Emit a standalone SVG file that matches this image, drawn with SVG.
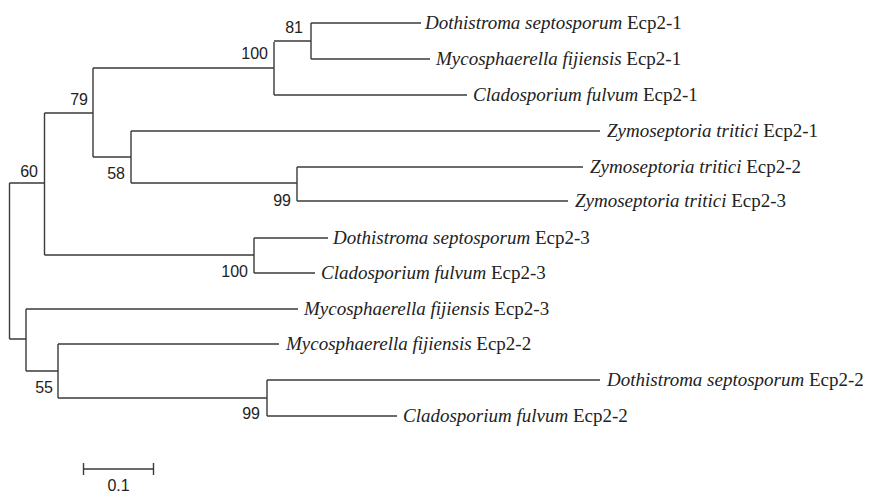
<svg xmlns="http://www.w3.org/2000/svg" width="869" height="493" viewBox="0 0 869 493">
<style>
.br{fill:none;stroke:#3a3a3a;stroke-width:1.4}
.bs{font-family:"Liberation Sans",Arial,sans-serif;font-size:16px;fill:#222;text-anchor:end}
.lf{font-family:"Liberation Serif","Times New Roman",serif;font-size:19px;fill:#222}
.sp{font-style:italic}
</style>
<rect width="869" height="493" fill="#fff"/>
<g id="connectors" class="br">
<path d="M9.5,183V339"/>
<path d="M9.5,183H44.5M44.5,113V255"/>
<path d="M44.5,113H93M93,68V157"/>
<path d="M93,68H274M274,42V95"/>
<path d="M274,41H311M311,23V59"/>
<path d="M311,23H421"/>
<path d="M311,59H430"/>
<path d="M274,95H467"/>
<path d="M93,157H131M131,131V183"/>
<path d="M131,131H600"/>
<path d="M131,183H297M297,167V201"/>
<path d="M297,167H583"/>
<path d="M297,201H568"/>
<path d="M44.5,255H254M254,238V273"/>
<path d="M254,238H328"/>
<path d="M254,273H315"/>
<path d="M9.5,339H26M26,309V371"/>
<path d="M26,309H298"/>
<path d="M26,371H58M58,344V398"/>
<path d="M58,344H279"/>
<path d="M58,398H267M267,380V416"/>
<path d="M267,380H600"/>
<path d="M267,416H397"/>
</g>
<g id="support">
<text class="bs" x="303" y="33">81</text>
<text class="bs" x="268" y="59">100</text>
<text class="bs" x="88" y="105">79</text>
<text class="bs" x="38" y="177">60</text>
<text class="bs" x="125" y="179">58</text>
<text class="bs" x="291" y="206">99</text>
<text class="bs" x="248" y="277">100</text>
<text class="bs" x="53" y="393">55</text>
<text class="bs" x="260" y="419">99</text>
</g>
<g id="leaf-ds1"><text class="lf" x="425" y="29"><tspan class="sp">Dothistroma septosporum</tspan> Ecp2-1</text></g>
<g id="leaf-mf1"><text class="lf" x="436" y="65"><tspan class="sp">Mycosphaerella fijiensis</tspan> Ecp2-1</text></g>
<g id="leaf-cf1"><text class="lf" x="473" y="101"><tspan class="sp">Cladosporium fulvum</tspan> Ecp2-1</text></g>
<g id="leaf-zt1"><text class="lf" x="607" y="137"><tspan class="sp">Zymoseptoria tritici</tspan> Ecp2-1</text></g>
<g id="leaf-zt2"><text class="lf" x="590" y="173"><tspan class="sp">Zymoseptoria tritici</tspan> Ecp2-2</text></g>
<g id="leaf-zt3"><text class="lf" x="575" y="207"><tspan class="sp">Zymoseptoria tritici</tspan> Ecp2-3</text></g>
<g id="leaf-ds3"><text class="lf" x="333" y="244"><tspan class="sp">Dothistroma septosporum</tspan> Ecp2-3</text></g>
<g id="leaf-cf3"><text class="lf" x="321" y="279"><tspan class="sp">Cladosporium fulvum</tspan> Ecp2-3</text></g>
<g id="leaf-mf3"><text class="lf" x="304" y="315"><tspan class="sp">Mycosphaerella fijiensis</tspan> Ecp2-3</text></g>
<g id="leaf-mf2"><text class="lf" x="286" y="350"><tspan class="sp">Mycosphaerella fijiensis</tspan> Ecp2-2</text></g>
<g id="leaf-ds2"><text class="lf" x="607" y="386"><tspan class="sp">Dothistroma septosporum</tspan> Ecp2-2</text></g>
<g id="leaf-cf2"><text class="lf" x="403" y="422"><tspan class="sp">Cladosporium fulvum</tspan> Ecp2-2</text></g>
<g id="scale">
<path class="br" d="M83.5,469H153.5M83.5,463V475M153.5,463V475"/>
<text x="118.5" y="491" style="font-family:'Liberation Sans',Arial,sans-serif;font-size:16px;fill:#222;text-anchor:middle">0.1</text>
</g>
</svg>
